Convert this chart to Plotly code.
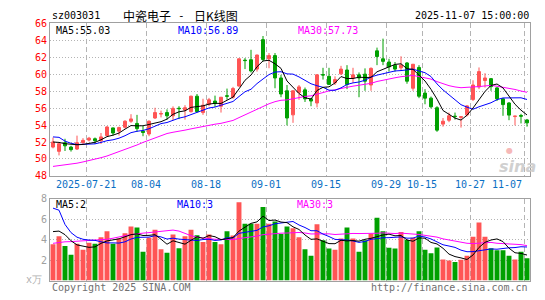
import plotly.graph_objects as go

# ---------------- data ----------------
month_days = [
    ("2025-07", [11, 14, 15, 16, 17, 18, 21, 22, 23, 24, 25, 28, 29, 30, 31]),
    ("2025-08", [1, 4, 5, 6, 7, 8, 11, 12, 13, 14, 15, 18, 19, 20, 21, 22, 25, 26, 27, 28, 29]),
    ("2025-09", [1, 2, 3, 4, 5, 8, 9, 10, 11, 12, 15, 16, 17, 18, 19, 22, 23, 24, 25, 26, 29, 30]),
    ("2025-10", [9, 10, 13, 14, 15, 16, 17, 20, 21, 22, 23, 24, 27, 28, 29, 30, 31]),
    ("2025-11", [3, 4, 5, 6, 7]),
]
dates = [f"{m}-{d:02d}" for m, ds in month_days for d in ds]

open_ = [51.40, 50.90, 51.92, 51.40, 51.17, 51.92, 52.23, 52.38, 52.15, 52.75,
         53.66, 53.28, 53.74, 54.45, 54.19, 53.28, 52.94, 54.83, 55.30, 55.47,
         55.09, 55.98, 55.77, 55.58, 57.40, 55.47, 56.45, 56.83, 56.22, 57.45,
         57.28, 58.60, 61.65, 61.70, 60.60, 64.07, 61.81, 62.19, 59.55, 58.04,
         55.20, 57.85, 58.15, 57.09, 56.60, 59.95, 59.74, 58.98, 60.04, 60.49,
         59.55, 59.92, 60.00, 58.72, 62.75, 61.81, 61.43, 61.06, 60.75, 61.32,
         58.34, 60.79, 57.77, 57.17, 56.04, 54.11, 54.57, 55.05, 54.90, 55.20,
         57.02, 58.49, 59.25, 59.47, 58.38, 57.09, 56.60, 55.00, 55.12, 54.60]
high = [52.53, 51.90, 52.38, 51.55, 52.75, 52.45, 52.60, 52.53, 53.06, 53.89,
        53.70, 53.81, 54.57, 55.28, 55.20, 53.89, 54.55, 56.04, 55.70, 55.85,
        56.20, 56.22, 56.34, 57.47, 57.66, 57.10, 57.20, 57.47, 57.30, 58.30,
        58.50, 61.85, 61.90, 62.87, 62.30, 64.50, 62.49, 62.49, 59.92, 58.72,
        58.10, 58.72, 58.42, 57.20, 60.00, 60.75, 60.75, 59.74, 60.98, 61.06,
        60.75, 60.20, 60.68, 60.80, 63.13, 64.19, 61.81, 61.43, 62.11, 61.43,
        61.20, 61.06, 58.23, 57.36, 56.22, 54.83, 55.47, 55.47, 55.00, 56.34,
        59.28, 60.79, 60.11, 59.55, 58.49, 57.20, 56.70, 55.09, 55.32, 54.72]
low = [51.25, 50.42, 50.94, 50.87, 51.06, 51.77, 52.07, 51.77, 51.77, 52.68,
       52.75, 52.75, 53.60, 54.26, 53.20, 52.68, 52.68, 54.72, 54.90, 54.64,
       54.57, 54.70, 54.64, 55.47, 55.50, 55.20, 56.22, 56.15, 55.47, 56.98,
       57.10, 58.50, 60.60, 60.19, 60.30, 61.50, 60.70, 58.34, 57.28, 53.96,
       54.26, 56.98, 56.72, 56.22, 56.08, 59.36, 58.72, 58.72, 59.90, 58.23,
       58.98, 57.28, 58.04, 58.04, 61.06, 61.06, 60.30, 60.30, 60.38, 58.87,
       58.04, 57.17, 56.45, 55.96, 53.20, 53.81, 54.34, 54.64, 53.70, 55.02,
       56.83, 58.23, 58.42, 58.04, 56.83, 55.09, 54.57, 53.96, 54.19, 53.81]
close = [52.00, 51.80, 51.55, 51.10, 51.92, 52.19, 52.45, 52.15, 52.60, 53.77,
         53.06, 53.70, 54.45, 54.72, 53.58, 53.13, 54.45, 55.47, 55.35, 55.09,
         55.96, 55.93, 56.04, 57.40, 55.58, 56.34, 56.98, 56.53, 57.28, 57.40,
         58.30, 61.81, 61.60, 60.38, 62.26, 61.74, 62.19, 59.55, 57.66, 54.83,
         58.04, 58.50, 57.09, 56.83, 59.92, 59.90, 58.79, 59.36, 60.60, 58.79,
         59.92, 59.55, 59.17, 60.68, 62.08, 61.51, 60.87, 60.60, 61.06, 59.17,
         61.17, 57.40, 57.17, 56.15, 53.40, 54.45, 55.09, 55.00, 54.98, 56.26,
         58.72, 60.30, 59.55, 58.53, 57.09, 56.41, 55.17, 55.05, 55.05, 54.26]
volume = [3.56, 4.35, 3.40, 2.54, 3.62, 3.02, 3.71, 3.62, 4.25, 4.83,
          3.62, 4.13, 4.63, 5.30, 5.20, 2.83, 4.19, 4.98, 3.08, 2.73,
          4.51, 3.17, 4.35, 4.98, 4.44, 3.78, 4.51, 3.78, 3.56, 4.83,
          4.41, 7.68, 5.56, 5.56, 5.56, 7.20, 5.56, 5.78, 4.57, 5.30,
          5.14, 4.25, 3.08, 2.44, 5.52, 3.94, 3.14, 3.02, 4.13, 5.20,
          4.13, 2.83, 3.94, 4.60, 6.16, 4.83, 3.21, 3.14, 4.76, 3.97,
          4.19, 4.83, 3.02, 2.67, 3.24, 2.06, 1.97, 1.81, 2.03, 2.44,
          4.29, 5.68, 4.29, 3.17, 2.98, 2.98, 2.44, 2.06, 2.83, 2.19]

# moving-average values read from the picture where prior history is not shown
ma5_head = [52.00, 51.95, 51.80, 51.70]
ma10_head = [52.60, 52.55, 52.10, 51.85, 51.70, 51.70, 51.72, 51.78, 51.95]
ma30_head = [49.12, 49.20, 49.28, 49.38, 49.50, 49.65, 49.80, 49.98, 50.15, 50.35,
             50.60, 50.85, 51.10, 51.35, 51.65, 51.95, 52.20, 52.45, 52.70, 53.00,
             53.15, 53.25, 53.40, 53.55, 53.70, 53.85, 53.95, 54.10, 54.20]
vma5_head = [4.80, 4.85, 4.50, 3.90]
vma10_head = [7.10, 6.90, 5.50, 4.70, 4.25, 4.05, 3.97, 3.94, 3.80]
vma30_head = [3.65, 3.75, 3.80, 3.82, 3.85, 3.87, 3.90, 3.92, 3.95, 4.05,
              4.15, 4.30, 4.40, 4.50, 4.60, 4.65, 4.70, 4.75, 4.80, 4.85,
              4.95, 4.85, 4.60, 4.40, 4.25, 4.15, 4.10, 4.05, 4.02]

price_ticks = [48, 50, 52, 54, 56, 58, 60, 62, 64, 66]
vol_ticks = [2, 4, 6, 8]
tick_dates = ["2025-07-21", "2025-08-04", "2025-08-18", "2025-09-01", "2025-09-15",
              "2025-09-29", "2025-10-15", "2025-10-27", "2025-11-07"]
tick_labels = ["2025-07-21", "08-04", "08-18", "09-01", "09-15",
               "09-29", "10-15", "10-27", "11-07"]

title_code = "sz003031"
title_name = "中瓷电子"
title_sep = "-"
title_kind = "日K线图"
title_time = "2025-11-07 15:00:00"
price_legend = [("MA5:55.03", "#000000"), ("MA10:56.89", "#0000ff"), ("MA30:57.73", "#ff00ff")]
vol_legend = [("MA5:2", "#000000"), ("MA10:3", "#0000ff"), ("MA30:3", "#ff00ff")]


def sma(vals, n, head):
    out = list(head)
    for i in range(len(head), len(vals)):
        out.append(sum(vals[i - n + 1:i + 1]) / n)
    return out


ma5 = sma(close, 5, ma5_head)
ma10 = sma(close, 10, ma10_head)
ma30 = sma(close, 30, ma30_head)
vma5 = sma(volume, 5, vma5_head)
vma10 = sma(volume, 10, vma10_head)
vma30 = sma(volume, 30, vma30_head)

# ---------------- figure ----------------
W, H = 545, 300
ML, MR = 50, 15
PW = W - ML - MR
RED = "#ff5555"
GREEN = "#00a000"
GRID = "#b4b4b4"
BORDER = "#a0a0a0"
MONO = "DejaVu Sans Mono"
CJK = "Noto Sans CJK SC"

x = list(range(len(dates)))
tickpos = [dates.index(d) - 0.5 for d in tick_dates]
bar_colors = [RED if c >= o else GREEN for o, c in zip(open_, close)]


def px(xp):
    return (xp - ML) / PW


def py(yp):
    return 1 - yp / H


fig = go.Figure()
fig.add_trace(go.Candlestick(
    x=x, open=open_, high=high, low=low, close=close,
    increasing=dict(line=dict(color=RED, width=1), fillcolor=RED),
    decreasing=dict(line=dict(color=GREEN, width=1), fillcolor=GREEN),
    whiskerwidth=0, showlegend=False, hoverinfo="skip", xaxis="x", yaxis="y"))
for vals, col in [(ma30, "#ff00ff"), (ma10, "#0000ff"), (ma5, "#000000")]:
    fig.add_trace(go.Scatter(x=x, y=vals, mode="lines", line=dict(color=col, width=1),
                             showlegend=False, hoverinfo="skip", xaxis="x", yaxis="y"))

fig.add_trace(go.Bar(x=x, y=volume, marker=dict(color=bar_colors, line=dict(width=0)),
                     width=0.82, showlegend=False, hoverinfo="skip", xaxis="x2", yaxis="y2"))
for vals, col in [(vma30, "#ff00ff"), (vma10, "#0000ff"), (vma5, "#000000")]:
    fig.add_trace(go.Scatter(x=x, y=vals, mode="lines", line=dict(color=col, width=1),
                             showlegend=False, hoverinfo="skip", xaxis="x2", yaxis="y2"))

xcommon = dict(range=[-0.5, len(dates) - 0.5], tickvals=tickpos, showticklabels=False,
               ticks="", showgrid=True, gridcolor=GRID, griddash="5px,3px", gridwidth=1,
               showline=True, mirror=True, linecolor=BORDER, linewidth=1, zeroline=False,
               fixedrange=True)
fig.update_layout(
    width=W, height=H, margin=dict(l=ML, r=MR, t=0, b=0),
    paper_bgcolor="white", plot_bgcolor="white",
    xaxis=dict(domain=[0, 1], anchor="y", rangeslider=dict(visible=False), **xcommon),
    xaxis2=dict(domain=[0, 1], anchor="y2", **xcommon),
    yaxis=dict(domain=[py(177), py(18)], range=[48, 66], tickvals=price_ticks,
               tickfont=dict(family=MONO, size=10, color="#ff0000"), ticks="",
               showgrid=True, gridcolor=GRID, griddash="1px,2px",
               showline=True, mirror=True, linecolor=BORDER, linewidth=1, zeroline=False),
    yaxis2=dict(domain=[py(286), py(201)], range=[0, 8], tickvals=vol_ticks,
                tickfont=dict(family=MONO, size=10, color="#a0a0a0"), ticks="",
                showgrid=True, gridcolor=GRID, griddash="1px,2px",
                showline=True, mirror=True, linecolor=BORDER, linewidth=1, zeroline=False),
    showlegend=False, font=dict(family=MONO, size=10, color="#000000"),
)

ann = []
ann.append(dict(text=title_code, x=px(50), y=py(10), xanchor="left", yanchor="middle",
                font=dict(family=MONO, size=10, color="#000")))
ann.append(dict(text=title_name, x=px(121), y=py(10), xanchor="left", yanchor="middle",
                font=dict(family=CJK, size=12, color="#000")))
ann.append(dict(text=title_sep, x=px(181), y=py(10), xanchor="center", yanchor="middle",
                font=dict(family=MONO, size=11, color="#000")))
ann.append(dict(text=title_kind, x=px(192), y=py(10), xanchor="left", yanchor="middle",
                font=dict(family=CJK, size=12, color="#000")))
ann.append(dict(text=title_time, x=px(531), y=py(10), xanchor="right", yanchor="middle",
                font=dict(family=MONO, size=10, color="#000")))
for (t, c), xp in zip(price_legend, [54, 176, 296]):
    ann.append(dict(text=t, x=px(xp), y=py(25), xanchor="left", yanchor="middle",
                    font=dict(family=MONO, size=10, color=c)))
for (t, c), xp in zip(vol_legend, [54, 175, 295]):
    ann.append(dict(text=t, x=px(xp), y=py(207), xanchor="left", yanchor="middle",
                    font=dict(family=MONO, size=10, color=c)))
for i, (tp, tl) in enumerate(zip(tickpos, tick_labels)):
    last = i == len(tickpos) - 1
    ann.append(dict(text=tl, x=tp, xref="x", y=py(186), xanchor="right" if last else "center",
                    yanchor="middle", font=dict(family=MONO, size=10, color="#0a6fc4")))
ann.append(dict(text="x万", x=px(44), y=py(285), xanchor="right", yanchor="middle",
                font=dict(family=MONO, size=10, color="#b0b0b0")))
ann.append(dict(text="Copyright 2025 SINA.COM", x=px(50), y=py(293), xanchor="left",
                yanchor="middle", font=dict(family=MONO, size=10, color="#707070")))
ann.append(dict(text="http://finance.sina.com.cn", x=px(530), y=py(293), xanchor="right",
                yanchor="middle", font=dict(family=MONO, size=10, color="#707070")))
ann.append(dict(text="<b><i>sina</i></b>", x=px(517), y=py(167), xanchor="center",
                yanchor="middle", font=dict(family="DejaVu Sans", size=16, color="#d0d0d0")))
ann.append(dict(text="●", x=px(509), y=py(151), xanchor="center", yanchor="middle",
                font=dict(family="DejaVu Sans", size=8, color="#f6b8b8")))
for a in ann:
    a.setdefault("xref", "paper")
    a["yref"] = "paper"
    a["showarrow"] = False
fig.update_layout(annotations=ann)

fig.write_html("out.html")
